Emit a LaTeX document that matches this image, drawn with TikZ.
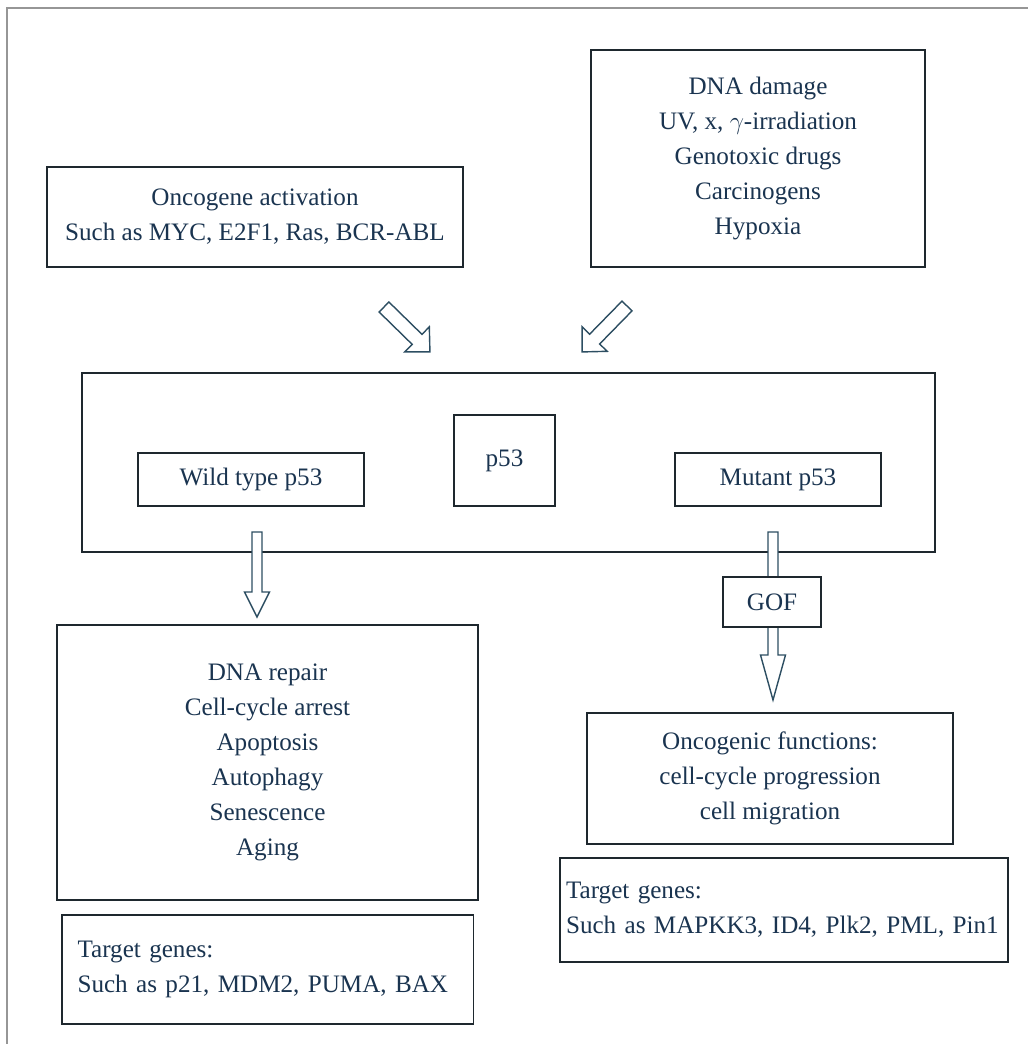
\documentclass[tikz,border=0pt]{standalone}
\usepackage{fontspec}
\setmainfont{Liberation Serif}
\usepackage{tikz}
\usetikzlibrary{positioning,calc}
\definecolor{framegray}{RGB}{150,150,150}
\definecolor{boxline}{RGB}{30,40,46}
\definecolor{arrline}{RGB}{45,78,98}
\definecolor{textblue}{RGB}{26,52,80}

% hollow block arrow: from, to, shaft half width, head half width, head length
\newcommand{\hollowarrow}[5]{%
  \draw[fatarr] let \p1=($(#2)-(#1)$), \n1={atan2(\y1,\x1)}, \n2={veclen(\x1,\y1)} in
    [shift={(#1)},rotate=\n1]
    (0pt,-#3) -- (\n2-#5,-#3) -- (\n2-#5,-#4) -- (\n2,0pt) -- (\n2-#5,#4) -- (\n2-#5,#3) -- (0pt,#3) -- cycle;}

\begin{document}
\begin{tikzpicture}[x=0.02cm,y=-0.02cm,
  box/.style={rectangle,draw=boxline,line width=1.1pt,fill=white,text=textblue,
              align=center,inner sep=0pt,font=\fontsize{14.3}{20}\selectfont},
  genes/.style={box,align=left},
  fatarr/.style={draw=arrline,line width=0.8pt,fill=white,line join=miter}
]
  \useasboundingbox (0,0) rectangle (1028,1044);
  \draw[framegray,line width=1pt] (7,1044) -- (7,8) -- (1028,8);

  % inputs
  \node[box,minimum width=8.32cm,minimum height=2cm] (onco) at (255,217)
    {Oncogene activation\\Such as MYC, E2F1, Ras, BCR-ABL};
  \node[box,minimum width=6.68cm,minimum height=4.34cm] (dna) at (758,158.5)
    {DNA damage\\UV, x, $\gamma$-irradiation\\Genotoxic drugs\\Carcinogens\\Hypoxia};

  % p53 frame
  \node[box,minimum width=17.06cm,minimum height=3.58cm] (frame) at (508.5,462.5) {};
  \node[box,minimum width=2.02cm,minimum height=1.82cm] (p53) at (504.5,460.5) {p53};
  \node[box,minimum width=4.52cm,minimum height=1.06cm] (wild) at (251,479.5) {Wild type p53};
  \node[box,minimum width=4.12cm,minimum height=1.06cm] (mutant) at (778,479.5) {Mutant p53};

  % outcomes
  \node[box,minimum width=8.42cm,minimum height=5.5cm] (wtres) at (267.5,762.5)
    {DNA repair\\Cell-cycle arrest\\Apoptosis\\Autophagy\\Senescence\\Aging};
  \node[genes,text width=7.6cm,inner xsep=0.32cm,minimum height=2.18cm,below=0.26cm of wtres] (wtgenes)
    {Target genes:\\Such as p21, MDM2, PUMA, BAX};
  \node[box,minimum width=7.32cm,minimum height=2.62cm] (mtres) at (770,778.5)
    {Oncogenic functions:\\cell-cycle progression\\cell migration};
  \node[genes,text width=8.72cm,inner xsep=0.12cm,minimum height=2.08cm,below=0.24cm of mtres,xshift=0.28cm] (mtgenes)
    {Target genes:\\Such as MAPKK3, ID4, Plk2, PML, Pin1};

  % arrows
  \coordinate (oncoT) at (384,307);
  \coordinate (oncoH) at (430,352);
  \coordinate (dnaT) at (627,306);
  \coordinate (dnaH) at (582,352);
  \coordinate (wtT) at (257,532);
  \coordinate (wtH) at (257,617);
  \coordinate (mtT) at (773,532);
  \coordinate (mtH) at (773,700);
  \hollowarrow{oncoT}{oncoH}{0.14cm}{0.35cm}{0.36cm}
  \hollowarrow{dnaT}{dnaH}{0.14cm}{0.35cm}{0.36cm}
  \hollowarrow{wtT}{wtH}{0.1cm}{0.25cm}{0.5cm}
  \hollowarrow{mtT}{mtH}{0.1cm}{0.25cm}{0.9cm}

  \node[box,minimum width=1.96cm,minimum height=1cm] (gof) at (772,602) {GOF};
\end{tikzpicture}
\end{document}
